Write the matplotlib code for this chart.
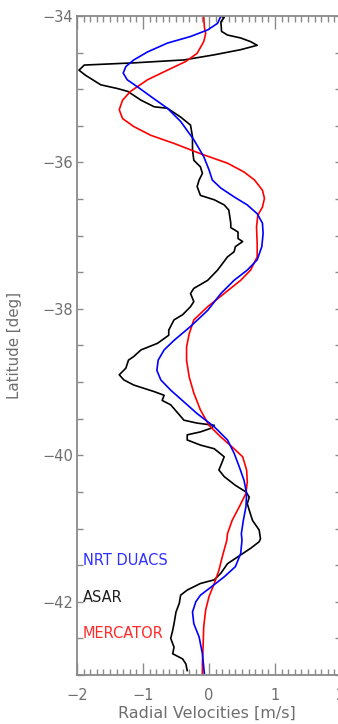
import numpy as np
import matplotlib
matplotlib.use('Agg')
import matplotlib.pyplot as plt
from matplotlib.ticker import MultipleLocator

# latitude [deg] / radial velocity [m/s]
asar_lat = [-34.00, -34.02, -34.08, -34.21, -34.26, -34.30, -34.35, -34.40, -34.46, -34.53,
            -34.60, -34.64, -34.67, -34.74, -34.81, -34.94, -34.99, -35.03, -35.15, -35.24,
            -35.26, -35.38, -35.49, -35.65, -35.83, -35.97, -36.06, -36.15, -36.24, -36.33,
            -36.45, -36.51, -36.58, -36.65, -36.83, -36.89, -36.95, -37.04, -37.08, -37.15,
            -37.22, -37.29, -37.47, -37.61, -37.72, -37.79, -37.90, -37.97, -38.08, -38.15,
            -38.29, -38.36, -38.47, -38.56, -38.65, -38.70, -38.81, -38.90, -38.97, -39.04,
            -39.13, -39.18, -39.25, -39.31, -39.52, -39.56, -39.59, -39.63, -39.68, -39.72,
            -39.79, -39.86, -39.91, -40.02, -40.09, -40.20, -40.29, -40.41, -40.50, -40.57,
            -40.66, -40.75, -40.89, -41.02, -41.14, -41.18, -41.27, -41.36, -41.48, -41.61,
            -41.70, -41.75, -41.84, -41.91, -42.02, -42.14, -42.30, -42.39, -42.50, -42.62,
            -42.71, -42.78, -42.85, -42.94]
asar_vel = [0.18, 0.23, 0.18, 0.19, 0.28, 0.48, 0.63, 0.73, 0.48, 0.08,
            -0.38, -1.14, -1.89, -1.97, -1.87, -1.64, -1.39, -1.23, -1.03, -0.83,
            -0.63, -0.43, -0.28, -0.25, -0.25, -0.23, -0.13, -0.10, -0.15, -0.18,
            -0.13, 0.08, 0.23, 0.30, 0.33, 0.33, 0.44, 0.44, 0.51, 0.40,
            0.38, 0.28, 0.13, -0.02, -0.23, -0.28, -0.23, -0.28, -0.40, -0.53,
            -0.61, -0.61, -0.78, -1.03, -1.14, -1.22, -1.26, -1.36, -1.29, -1.14,
            -0.83, -0.68, -0.71, -0.58, -0.38, -0.18, 0.08, 0.03, -0.13, -0.33,
            -0.33, -0.13, 0.08, 0.23, 0.20, 0.15, 0.23, 0.40, 0.56, 0.61,
            0.58, 0.61, 0.66, 0.76, 0.78, 0.76, 0.63, 0.48, 0.28, 0.18,
            0.08, -0.13, -0.33, -0.43, -0.45, -0.50, -0.53, -0.55, -0.58, -0.53,
            -0.55, -0.40, -0.35, -0.33]

duacs_lat = [-34.00, -34.10, -34.19, -34.28, -34.37, -34.49, -34.60, -34.69, -34.78, -34.87,
             -34.97, -35.10, -35.26, -35.44, -35.69, -35.92, -36.10, -36.24, -36.35, -36.47,
             -36.58, -36.70, -36.83, -36.97, -37.15, -37.33, -37.47, -37.61, -37.79, -38.02,
             -38.24, -38.43, -38.56, -38.70, -38.84, -38.97, -39.11, -39.27, -39.43, -39.61,
             -39.79, -39.97, -40.16, -40.34, -40.52, -40.70, -40.89, -41.07, -41.16, -41.34,
             -41.52, -41.66, -41.80, -41.91, -42.00, -42.14, -42.30, -42.48, -42.71, -42.89,
             -42.98]
duacs_vel = [0.18, 0.13, -0.02, -0.28, -0.63, -0.93, -1.14, -1.26, -1.30, -1.24,
             -1.08, -0.88, -0.63, -0.43, -0.23, -0.08, 0.00, 0.05, 0.18, 0.38,
             0.58, 0.73, 0.81, 0.82, 0.80, 0.73, 0.58, 0.38, 0.18, -0.02,
             -0.28, -0.53, -0.68, -0.77, -0.79, -0.73, -0.58, -0.38, -0.18, 0.08,
             0.28, 0.38, 0.46, 0.53, 0.57, 0.56, 0.52, 0.49, 0.50, 0.48,
             0.40, 0.23, 0.03, -0.13, -0.20, -0.25, -0.23, -0.15, -0.10, -0.08,
             -0.07]

merc_lat = [-34.00, -34.15, -34.24, -34.35, -34.51, -34.62, -34.74, -34.87, -35.03, -35.15,
            -35.28, -35.40, -35.51, -35.63, -35.74, -35.88, -36.01, -36.13, -36.24, -36.38,
            -36.49, -36.61, -36.72, -36.88, -37.11, -37.29, -37.47, -37.61, -37.79, -37.97,
            -38.15, -38.34, -38.52, -38.70, -38.93, -39.15, -39.38, -39.59, -39.75, -39.91,
            -40.02, -40.20, -40.36, -40.52, -40.70, -40.89, -41.07, -41.16, -41.39, -41.57,
            -41.75, -41.93, -42.11, -42.34, -42.62, -42.85, -42.98]
merc_vel = [-0.08, -0.07, -0.05, -0.08, -0.18, -0.35, -0.63, -0.93, -1.19, -1.31,
            -1.36, -1.31, -1.14, -0.88, -0.53, -0.13, 0.28, 0.53, 0.69, 0.81,
            0.84, 0.81, 0.74, 0.72, 0.73, 0.73, 0.63, 0.48, 0.23, -0.02,
            -0.23, -0.30, -0.34, -0.34, -0.30, -0.23, -0.13, 0.00, 0.18, 0.38,
            0.51, 0.57, 0.58, 0.56, 0.46, 0.35, 0.28, 0.27, 0.20, 0.15,
            0.08, 0.00, -0.05, -0.08, -0.09, -0.10, -0.10]

GRAY = '#8a8a8a'
TXT = '#6e6e6e'

fig = plt.figure(figsize=(3.38, 7.24), dpi=100)
ax = fig.add_axes([77 / 338, 49 / 724, 264 / 338, 659 / 724])

ax.plot(asar_vel, asar_lat, color='black', lw=1.2)
ax.plot(merc_vel, merc_lat, color='red', lw=1.2)
ax.plot(duacs_vel, duacs_lat, color='blue', lw=1.2)

ax.set_xlim(-2, 2)
ax.set_ylim(-43, -34)
ax.xaxis.set_major_locator(MultipleLocator(1))
ax.xaxis.set_minor_locator(MultipleLocator(0.1))
ax.yaxis.set_major_locator(MultipleLocator(2))
ax.yaxis.set_minor_locator(MultipleLocator(0.5))

ax.tick_params(axis='both', which='both', direction='in', colors=GRAY,
               labelcolor=TXT, labelsize=10.5, top=True, right=True, width=1)
ax.tick_params(axis='x', which='major', length=9, pad=9)
ax.tick_params(axis='x', which='minor', length=4)
ax.tick_params(axis='y', which='both', length=4, pad=3)
for s in ax.spines.values():
    s.set_color(GRAY)
    s.set_linewidth(1.3)

ax.set_xlabel('Radial Velocities [m/s]', color=TXT, fontsize=11.5)
ax.set_ylabel('Latitude [deg]', color=TXT, fontsize=10.8)
ax.xaxis.set_label_coords(0.492, -0.046)
ax.yaxis.set_label_coords(-0.21, 0.5)

ax.text(-1.91, -41.43, 'NRT DUACS', color='#3030ff', fontsize=10.5, va='center')
ax.text(-1.91, -41.94, 'ASAR', color='#202020', fontsize=10.5, va='center')
ax.text(-1.91, -42.44, 'MERCATOR', color='#ff2a2a', fontsize=10.5, va='center')

fig.savefig('out.png', dpi=100)
